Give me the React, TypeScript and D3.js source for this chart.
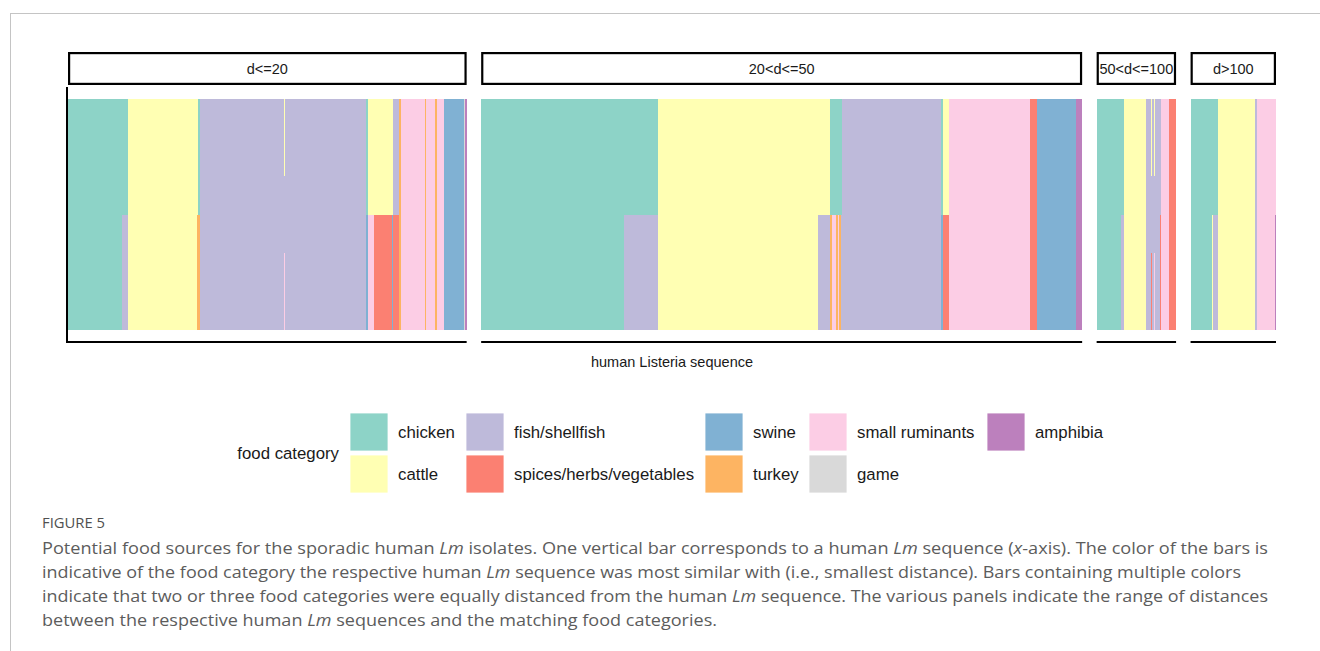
import React from "react";
import * as d3 from "d3";

// Food categories in factor order (first level is stacked on top)
const categories = [
  "chicken",
  "cattle",
  "fish/shellfish",
  "spices/herbs/vegetables",
  "swine",
  "turkey",
  "small ruminants",
  "game",
  "amphibia",
];
const palette = ["#8DD3C7", "#FFFFB3", "#BEBADA", "#FB8072", "#80B1D3", "#FDB462", "#FCCDE5", "#D9D9D9", "#BC80BD"];

const facetLabels = ["d<=20", "20<d<=50", "50<d<=100", "d>100"];

// Consecutive human sequences: [equally closest food categories joined by "+", number of sequences]
const runsD20: [string, number][] = [
  ["chicken", 36],
  ["chicken+fish/shellfish", 4],
  ["cattle", 46],
  ["cattle+turkey", 1],
  ["chicken+turkey", 1],
  ["fish/shellfish", 56],
  ["cattle+fish/shellfish+small ruminants", 1],
  ["fish/shellfish", 54],
  ["chicken+swine", 1],
  ["cattle+small ruminants", 4],
  ["cattle+spices/herbs/vegetables", 12],
  ["cattle+swine", 1],
  ["fish/shellfish+spices/herbs/vegetables", 4],
  ["turkey", 1],
  ["small ruminants", 16],
  ["turkey", 1],
  ["small ruminants", 6],
  ["turkey", 1],
  ["small ruminants", 5],
  ["swine", 13],
  ["game", 1],
  ["amphibia", 1],
];

const runsD20to50: [string, number][] = [
  ["chicken", 95],
  ["chicken+fish/shellfish", 23],
  ["cattle", 107],
  ["cattle+fish/shellfish", 8],
  ["chicken+turkey", 1],
  ["chicken+small ruminants", 3],
  ["chicken+turkey", 1],
  ["chicken+small ruminants", 1],
  ["chicken+turkey", 1],
  ["chicken+fish/shellfish", 1],
  ["fish/shellfish", 66],
  ["chicken+swine", 1],
  ["cattle+spices/herbs/vegetables", 4],
  ["small ruminants", 54],
  ["spices/herbs/vegetables", 5],
  ["swine", 26],
  ["amphibia", 4],
];

const runsD50to100: [string, number][] = [
  ["chicken", 16],
  ["chicken+fish/shellfish", 2],
  ["cattle", 15],
  ["fish/shellfish", 3],
  ["cattle+fish/shellfish+spices/herbs/vegetables", 1],
  ["fish/shellfish", 1],
  ["cattle+fish/shellfish+small ruminants", 1],
  ["fish/shellfish", 3],
  ["fish/shellfish+spices/herbs/vegetables", 1],
  ["small ruminants", 5],
  ["spices/herbs/vegetables", 5],
];

const runsD100plus: [string, number][] = [
  ["chicken", 14],
  ["chicken+cattle", 1],
  ["chicken+fish/shellfish", 3],
  ["cattle", 25],
  ["fish/shellfish", 1],
  ["small ruminants", 12],
  ["small ruminants+amphibia", 1],
];

const facetRuns = [runsD20, runsD20to50, runsD50to100, runsD100plus];

const FONT = "'Liberation Sans', Arial, Helvetica, sans-serif";
const CAPTION_FONT = "'Open Sans', 'Noto Sans', sans-serif";

export default function App() {
  const W = 1320;
  const H = 651;
  const plotLeft = 68;
  const plotRight = 1276;
  const panelGap = 14.5;
  const panelTop = 87;
  const panelBottom = 342;

  const counts = facetRuns.map((r) => d3.sum(r, (d) => d[1]));
  const unit = (plotRight - plotLeft - panelGap * (facetRuns.length - 1)) / d3.sum(counts);

  const y = d3.scaleLinear().domain([-0.05, 1.05]).range([panelBottom, panelTop]);
  const color = d3.scaleOrdinal<string, string>().domain(categories).range(palette);

  let cursor = plotLeft;
  const panels = facetRuns.map((runs, i) => {
    const bars = runs.flatMap(([comp, n]) =>
      d3.range(n).map(() =>
        comp.split("+").sort((a, b) => categories.indexOf(a) - categories.indexOf(b))
      )
    );
    const left = cursor;
    const right = cursor + counts[i] * unit;
    cursor = right + panelGap;
    const x = d3
      .scaleBand<number>()
      .domain(bars.map((_, j) => j))
      .range([left, right])
      .padding(0);
    return { bars, left, right, x, label: facetLabels[i] };
  });

  // legend: two rows, filled column by column
  const keyCols = [350, 466, 705, 809, 987];
  const keyRows = [413, 455];
  const keySize = 38;

  const captionLines: { parts: [string, boolean][]; end: number }[] = [
    {
      parts: [
        ["Potential food sources for the sporadic human ", false],
        ["Lm", true],
        [" isolates. One vertical bar corresponds to a human ", false],
        ["Lm", true],
        [" sequence (", false],
        ["x", true],
        ["-axis). The color of the bars is", false],
      ],
      end: 1268,
    },
    {
      parts: [
        ["indicative of the food category the respective human ", false],
        ["Lm", true],
        [" sequence was most similar with (i.e., smallest distance). Bars containing multiple colors", false],
      ],
      end: 1241,
    },
    {
      parts: [
        ["indicate that two or three food categories were equally distanced from the human ", false],
        ["Lm", true],
        [" sequence. The various panels indicate the range of distances", false],
      ],
      end: 1268,
    },
    {
      parts: [
        ["between the respective human ", false],
        ["Lm", true],
        [" sequences and the matching food categories.", false],
      ],
      end: 717,
    },
  ];

  return (
    <svg
      width={W}
      height={H}
      viewBox={`0 0 ${W} ${H}`}
      style={{ position: "absolute", left: 0, top: 0, background: "#fff" }}
    >
      <rect x={0} y={0} width={W} height={H} fill="#fff" />
      {/* page frame */}
      <line x1={10} x2={W} y1={13.5} y2={13.5} stroke="#c4c4c4" strokeWidth={1} />
      <line x1={10.5} x2={10.5} y1={13} y2={H} stroke="#c4c4c4" strokeWidth={1} />

      {panels.map((p, i) => (
        <g key={p.label}>
          {/* strip */}
          <rect
            x={p.left + 1.1}
            y={53.1}
            width={p.right - p.left - 2.2}
            height={30.8}
            fill="#fff"
            stroke="#000"
            strokeWidth={2.2}
          />
          <text
            x={(p.left + p.right) / 2}
            y={69}
            dy="0.35em"
            textAnchor="middle"
            fontFamily={FONT}
            fontSize={14.5}
            fill="#1a1a1a"
          >
            {p.label}
          </text>

          {/* stacked bars */}
          <g shapeRendering="crispEdges">
            {p.bars.map((parts, j) =>
              parts.map((cat, k) => {
                const top = 1 - k / parts.length;
                const bottom = 1 - (k + 1) / parts.length;
                return (
                  <rect
                    key={`${j}-${k}`}
                    x={p.x(j)}
                    width={p.x.bandwidth()}
                    y={y(top)}
                    height={y(bottom) - y(top)}
                    fill={color(cat)}
                  />
                );
              })
            )}
          </g>

          {/* axis lines */}
          <line x1={p.left} x2={p.right} y1={panelBottom} y2={panelBottom} stroke="#000" strokeWidth={2} />
          {i === 0 && (
            <line x1={p.left - 1} x2={p.left - 1} y1={panelTop} y2={panelBottom + 1} stroke="#000" strokeWidth={2} />
          )}
        </g>
      ))}

      <text x={(plotLeft + plotRight) / 2} y={362} dy="0.35em" textAnchor="middle" fontFamily={FONT} fontSize={14.5} fill="#1a1a1a">
        human Listeria sequence
      </text>

      {/* legend */}
      <text x={339} y={453} dy="0.35em" textAnchor="end" fontFamily={FONT} fontSize={16.8} fill="#1a1a1a">
        food category
      </text>
      {categories.map((cat, i) => {
        const col = Math.floor(i / 2);
        const row = i % 2;
        const kx = keyCols[col];
        const ky = keyRows[row];
        return (
          <g key={cat}>
            <rect x={kx} y={ky} width={keySize} height={keySize} fill={color(cat)} stroke="#fff" strokeWidth={0.8} />
            <text x={kx + 48} y={ky + keySize / 2} dy="0.35em" fontFamily={FONT} fontSize={16.8} fill="#1a1a1a">
              {cat}
            </text>
          </g>
        );
      })}

      {/* caption */}
      <text x={42} y={528} fontFamily={CAPTION_FONT} fontSize={14} fill="#505050" textLength={63} lengthAdjust="spacingAndGlyphs">
        FIGURE 5
      </text>
      {captionLines.map((line, i) => (
        <text
          key={i}
          x={42}
          y={554 + i * 24}
          fontFamily={CAPTION_FONT}
          fontSize={17}
          fill="#5c5c5c"
          textLength={line.end - 42}
          lengthAdjust="spacingAndGlyphs"
        >
          {line.parts.map(([t, it], k) => (
            <tspan key={k} fontStyle={it ? "italic" : "normal"}>
              {t}
            </tspan>
          ))}
        </text>
      ))}
    </svg>
  );
}
